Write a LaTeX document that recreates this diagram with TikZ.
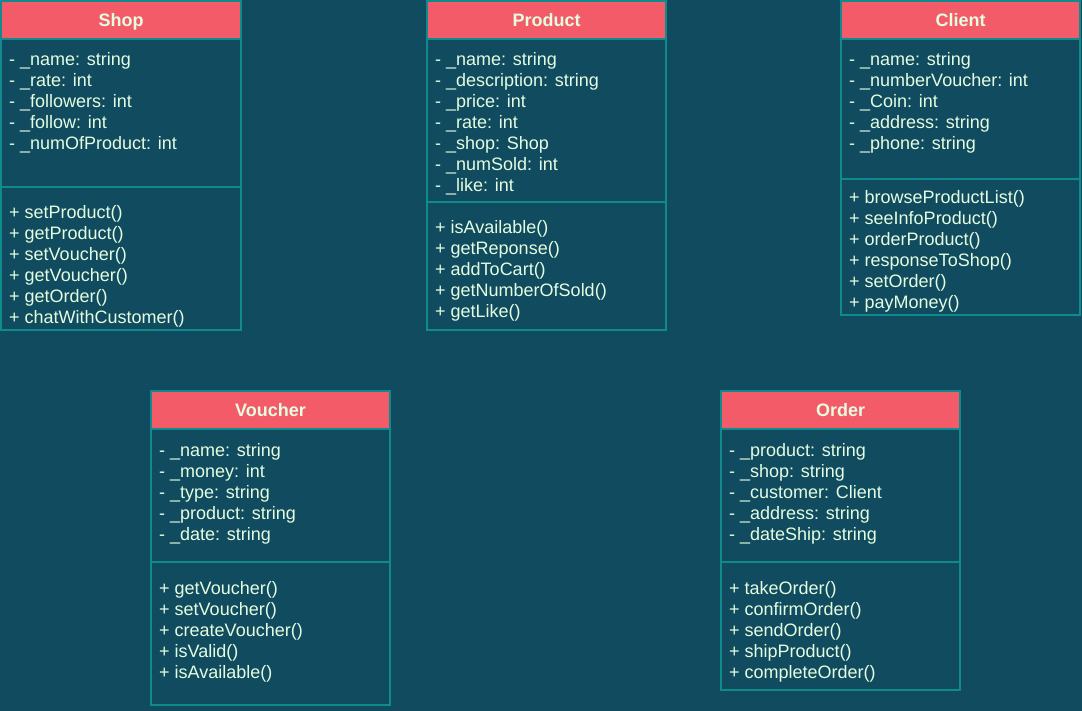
\documentclass[tikz,border=0pt]{standalone}
\usepackage{fontspec}
\setmainfont{Liberation Sans}
\definecolor{bg}{HTML}{114B5F}
\definecolor{hd}{HTML}{F45B69}
\definecolor{bd}{HTML}{0F8B8D}
\definecolor{tx}{HTML}{E4FDE1}
\newcommand\umllines[1]{\vtop{\baselineskip=21pt\lineskiplimit=-20pt\halign{##\hfil\cr#1\crcr}}}
\tikzset{
  sect/.style={draw=bd, fill=bg, line width=1.3pt, inner sep=0pt, outer sep=0pt, anchor=north west},
  hdr/.style={draw=bd, fill=hd, line width=1.3pt, inner sep=0pt, outer sep=0pt, anchor=north west, text=tx, text height=13pt, text depth=0pt, font=\fontsize{18}{21}\selectfont\bfseries},
  txt/.style={inner sep=0pt, anchor=base west, text=tx, font=\fontsize{18}{21}\selectfont}
}
\begin{document}
\begin{tikzpicture}[x=1pt,y=-1pt]
\fill[bg] (0,0) rectangle (1082,711);
\useasboundingbox (0,0) rectangle (1082,711);
% Shop
\node[sect, minimum width=240pt, minimum height=148pt] (shopA) at (1,39) {};
\node[sect, minimum width=240pt, minimum height=143pt] (shopM) at (1,187) {};
\node[hdr, minimum width=240pt, minimum height=38pt] (shopH) at (1,1) {Shop};
\node[txt] (shopAt) at (9,66) {\umllines{- \_name: string\cr - \_rate: int\cr - \_followers: int\cr - \_follow: int\cr - \_numOfProduct: int}};
\node[txt] (shopMt) at (9,219) {\umllines{+ setProduct()\cr + getProduct()\cr + setVoucher()\cr + getVoucher()\cr + getOrder()\cr + chatWithCustomer()}};
% Product
\node[sect, minimum width=239pt, minimum height=163pt] (prodA) at (427,39) {};
\node[sect, minimum width=239pt, minimum height=128pt] (prodM) at (427,202) {};
\node[hdr, minimum width=239pt, minimum height=38pt] (prodH) at (427,1) {Product};
\node[txt] (prodAt) at (435,66) {\umllines{- \_name: string\cr - \_description: string\cr - \_price: int\cr - \_rate: int\cr - \_shop: Shop\cr - \_numSold: int\cr - \_like: int}};
\node[txt] (prodMt) at (435,234) {\umllines{+ isAvailable()\cr + getReponse()\cr + addToCart()\cr + getNumberOfSold()\cr + getLike()}};
% Client
\node[sect, minimum width=239pt, minimum height=140pt] (cliA) at (841,39) {};
\node[sect, minimum width=239pt, minimum height=136pt] (cliM) at (841,179) {};
\node[hdr, minimum width=239pt, minimum height=38pt] (cliH) at (841,1) {Client};
\node[txt] (cliAt) at (849,66) {\umllines{- \_name: string\cr - \_numberVoucher: int\cr - \_Coin: int\cr - \_address: string\cr - \_phone: string}};
\node[txt] (cliMt) at (849,204) {\umllines{+ browseProductList()\cr + seeInfoProduct()\cr + orderProduct()\cr + responseToShop()\cr + setOrder()\cr + payMoney()}};
% Voucher
\node[sect, minimum width=239pt, minimum height=133pt] (vouA) at (151,429) {};
\node[sect, minimum width=239pt, minimum height=143pt] (vouM) at (151,562) {};
\node[hdr, minimum width=239pt, minimum height=38pt] (vouH) at (151,391) {Voucher};
\node[txt] (vouAt) at (159,456) {\umllines{- \_name: string\cr - \_money: int\cr - \_type: string\cr - \_product: string\cr - \_date: string}};
\node[txt] (vouMt) at (159,594) {\umllines{+ getVoucher()\cr + setVoucher()\cr + createVoucher()\cr + isValid()\cr + isAvailable()}};
% Order
\node[sect, minimum width=239pt, minimum height=133pt] (ordA) at (721,429) {};
\node[sect, minimum width=239pt, minimum height=128pt] (ordM) at (721,562) {};
\node[hdr, minimum width=239pt, minimum height=38pt] (ordH) at (721,391) {Order};
\node[txt] (ordAt) at (729,456) {\umllines{- \_product: string\cr - \_shop: string\cr - \_customer: Client\cr - \_address: string\cr - \_dateShip: string}};
\node[txt] (ordMt) at (729,594) {\umllines{+ takeOrder()\cr + confirmOrder()\cr + sendOrder()\cr + shipProduct()\cr + completeOrder()}};
\end{tikzpicture}
\end{document}
